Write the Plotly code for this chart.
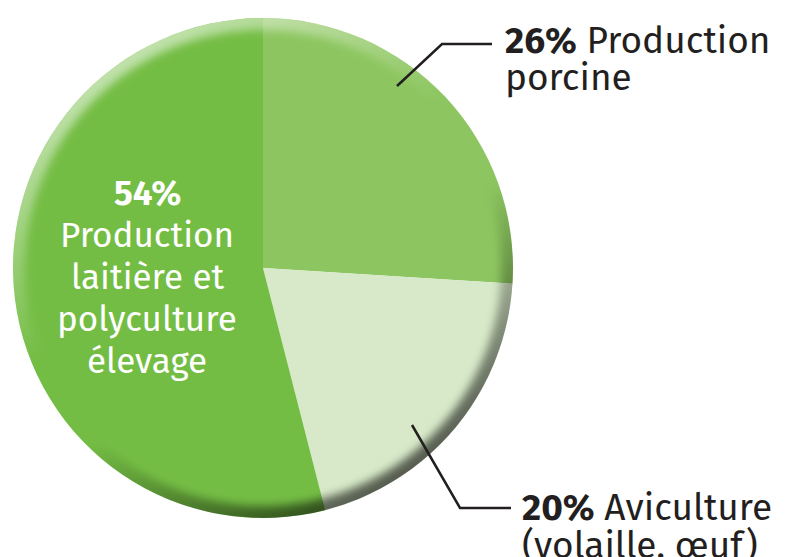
import base64
import plotly.graph_objects as go

W, H = 790, 557

# ---- data ----
categories = ["Production porcine", "Aviculture (volaille, œuf)", "Production laitière et polyculture élevage"]
shares = [26, 20, 54]
colors = ["#8DC660", "#D7E9C8", "#74BD44"]
label_lines = [
    ["Production", "porcine"],
    ["Aviculture", "(volaille, œuf)"],
    ["Production", "laitière et", "polyculture", "élevage"],
]

def px(x):
    return x / W

def py(y):
    return 1 - y / H

cx, cy, r = 263, 268, 250

fig = go.Figure()
fig.add_trace(go.Pie(
    labels=categories,
    values=shares,
    sort=False,
    direction="clockwise",
    rotation=0,
    marker=dict(colors=colors, line=dict(width=0)),
    textinfo="none",
    hoverinfo="label+percent",
    domain=dict(x=[px(cx - r), px(cx + r)], y=[py(cy + r), py(cy - r)]),
    showlegend=False,
))

# soft rim shading overlay (decorative, like the bevelled edge of the original)
svg = (
    "<svg xmlns='http://www.w3.org/2000/svg' width='500' height='500' viewBox='0 0 500 500'>"
    "<defs>"
    "<linearGradient id='g' x1='0.2' y1='0.1' x2='0.75' y2='0.95'>"
    "<stop offset='0' stop-color='#ffffff' stop-opacity='0.55'/>"
    "<stop offset='0.4' stop-color='#ffffff' stop-opacity='0'/>"
    "<stop offset='0.6' stop-color='#000000' stop-opacity='0'/>"
    "<stop offset='1' stop-color='#000000' stop-opacity='0.62'/>"
    "</linearGradient>"
    "<clipPath id='c'><circle cx='250' cy='250' r='250'/></clipPath>"
    "<filter id='b' x='-10%' y='-10%' width='120%' height='120%'><feGaussianBlur stdDeviation='4'/></filter>"
    "</defs>"
    "<g clip-path='url(#c)'><circle cx='250' cy='250' r='248' fill='none' stroke='url(#g)' "
    "stroke-width='20' filter='url(#b)'/></g>"
    "</svg>"
)
svg_uri = "data:image/svg+xml;base64," + base64.b64encode(svg.encode()).decode()

FONT = "Fira Sans, Open Sans, sans-serif"
DARK = "#231F20"
ann = []

# top-right label (26%)
ann.append(dict(x=px(503), y=py(40), xref="paper", yref="paper", xanchor="left", yanchor="middle",
                text=f"<b>{shares[0]}%</b> {label_lines[0][0]}", showarrow=False,
                font=dict(family=FONT, size=37, color=DARK)))
ann.append(dict(x=px(503), y=py(77), xref="paper", yref="paper", xanchor="left", yanchor="middle",
                text=label_lines[0][1], showarrow=False,
                font=dict(family=FONT, size=37, color=DARK)))

# bottom-right label (20%)
ann.append(dict(x=px(520), y=py(507), xref="paper", yref="paper", xanchor="left", yanchor="middle",
                text=f"<b>{shares[1]}%</b> {label_lines[1][0]}", showarrow=False,
                font=dict(family=FONT, size=37, color=DARK)))
ann.append(dict(x=px(520), y=py(545), xref="paper", yref="paper", xanchor="left", yanchor="middle",
                text=label_lines[1][1], showarrow=False,
                font=dict(family=FONT, size=37, color=DARK)))

# inside label (54%)
inner_y = [193, 235, 277, 319, 361]
inner_texts = [f"<b>{shares[2]}%</b>"] + label_lines[2]
for t, yy in zip(inner_texts, inner_y):
    ann.append(dict(x=px(147), y=py(yy), xref="paper", yref="paper", xanchor="center", yanchor="middle",
                    text=t, showarrow=False,
                    font=dict(family=FONT, size=35, color="white")))

line_style = dict(color=DARK, width=2.5)
shapes = [
    dict(type="path", xref="paper", yref="paper",
         path=f"M {px(397)} {py(86)} L {px(442)} {py(44)} L {px(492)} {py(44)}",
         line=line_style),
    dict(type="path", xref="paper", yref="paper",
         path=f"M {px(412)} {py(425)} L {px(460)} {py(508)} L {px(511)} {py(508)}",
         line=line_style),
]

fig.update_layout(
    width=W, height=H,
    margin=dict(l=0, r=0, t=0, b=0),
    paper_bgcolor="white", plot_bgcolor="white",
    annotations=ann, shapes=shapes,
    images=[dict(source=svg_uri, xref="paper", yref="paper",
                 x=px(cx - r), y=py(cy - r), sizex=px(2 * r), sizey=2 * r / H,
                 xanchor="left", yanchor="top", sizing="stretch", layer="above")],
)

fig.write_html("out.html", config={"displayModeBar": False},
               post_script="document.body.style.margin='0';document.body.style.overflow='hidden';")
